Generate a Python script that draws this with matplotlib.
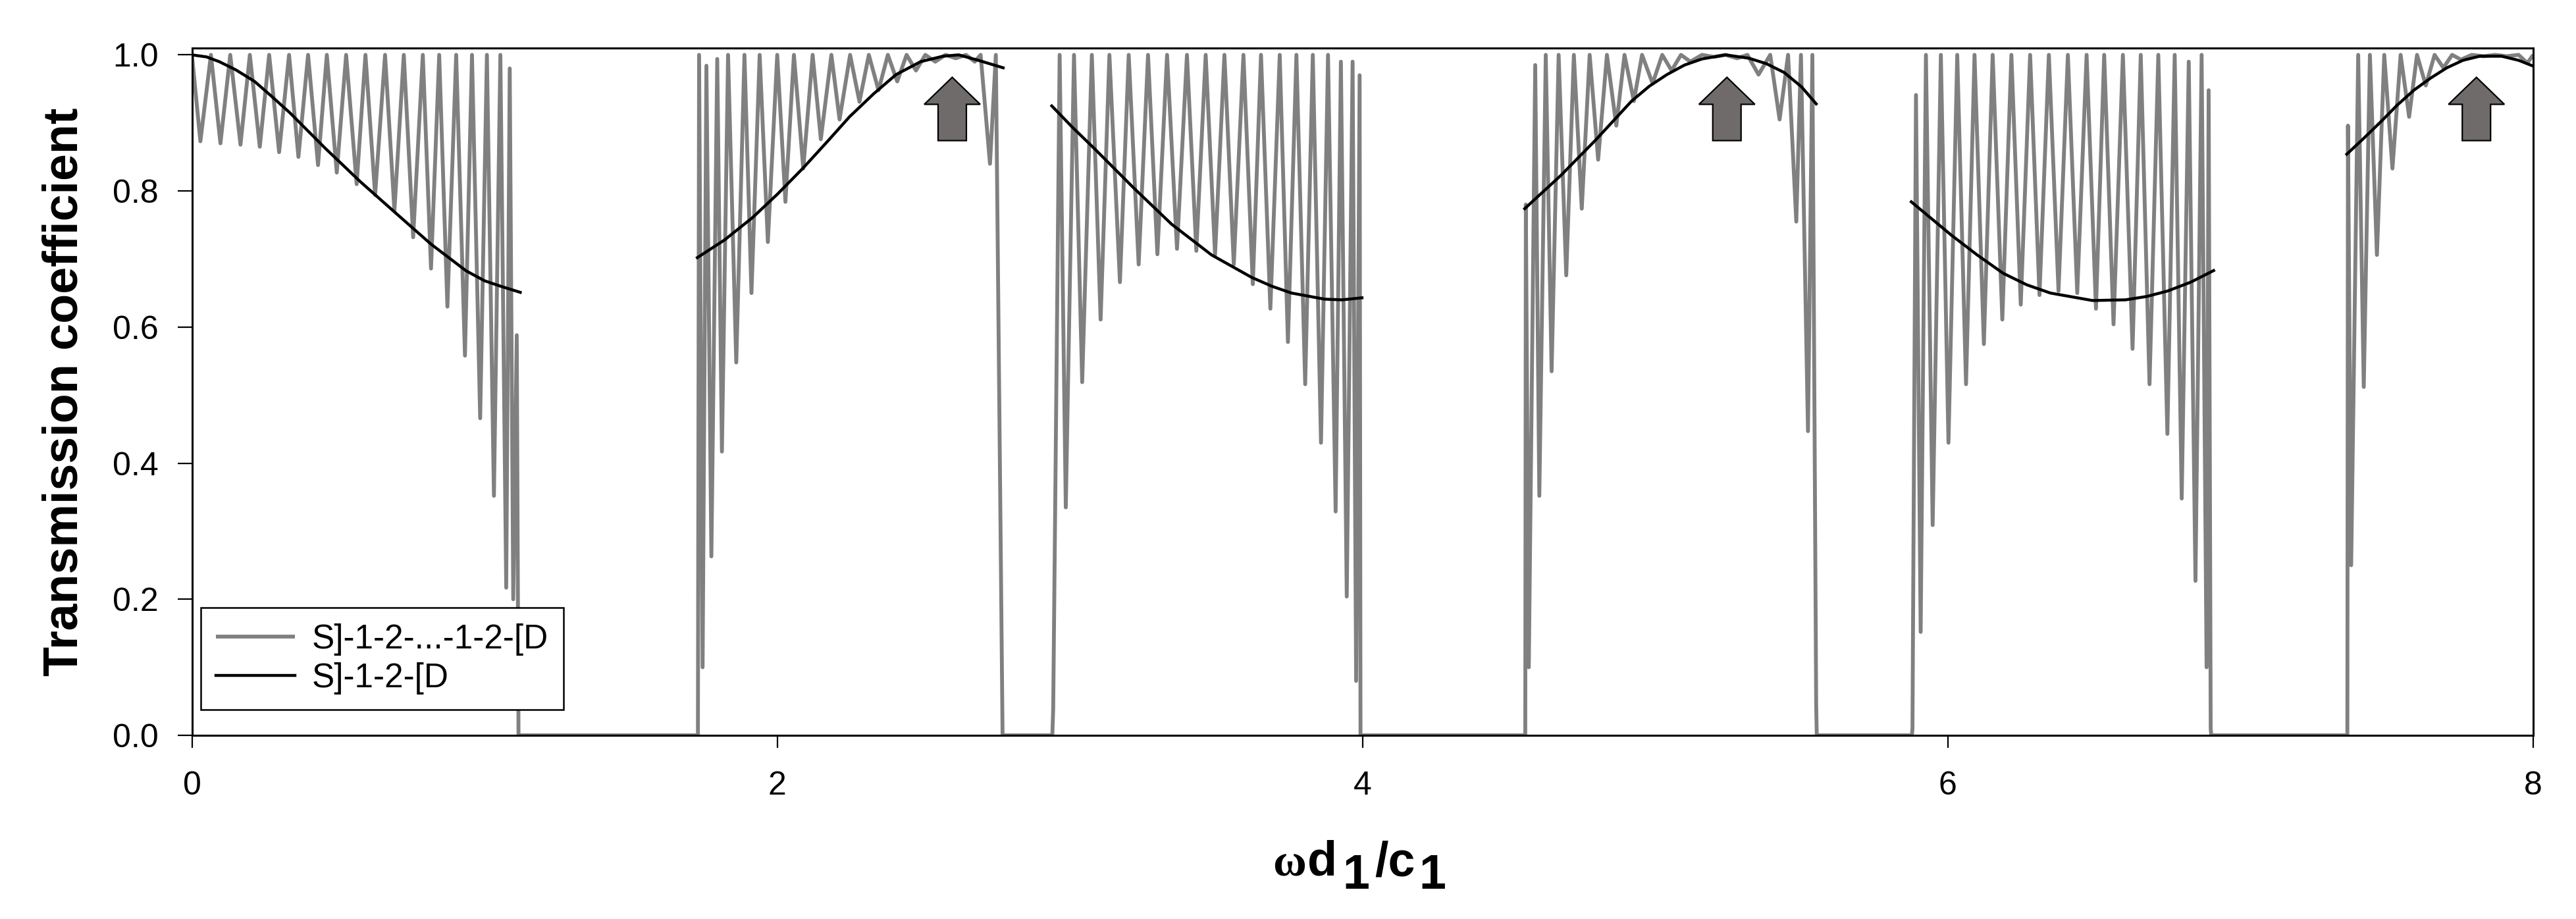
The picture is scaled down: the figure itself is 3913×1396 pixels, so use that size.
import numpy as np
import matplotlib
matplotlib.use("Agg")
import matplotlib.pyplot as plt
from matplotlib.patches import FancyArrow

plt.rcParams['font.family'] = ['Liberation Sans', 'DejaVu Sans']

# ---------------- data ----------------
# S]-1-2-...-1-2-[D : peaks / troughs of the oscillating transmission, per pass band
gray_band1 = [(0.0, 1.0), (0.029, 0.873), (0.065, 1.0), (0.0975, 0.870), (0.131, 1.0), (0.166, 0.868),
              (0.198, 1.0), (0.232, 0.865), (0.264, 1.0), (0.298, 0.857), (0.332, 1.0), (0.364, 0.850),
              (0.397, 1.0), (0.431, 0.838), (0.461, 1.0), (0.495, 0.827), (0.527, 1.0), (0.563, 0.810),
              (0.593, 1.0), (0.626, 0.794), (0.660, 1.0), (0.692, 0.771), (0.724, 1.0), (0.756, 0.732),
              (0.789, 1.0), (0.817, 0.686), (0.845, 1.0), (0.873, 0.630), (0.903, 1.0), (0.933, 0.558),
              (0.957, 1.0), (0.985, 0.466), (1.008, 1.0), (1.032, 0.352), (1.054, 1.0), (1.074, 0.217),
              (1.086, 0.98), (1.098, 0.20), (1.110, 0.588), (1.116, 0.0)]
gray_band2 = [(1.729, 0.0), (1.733, 1.0), (1.745, 0.10), (1.758, 0.984), (1.775, 0.263), (1.795, 0.994),
              (1.811, 0.417), (1.832, 1.0), (1.860, 0.548), (1.888, 1.0), (1.912, 0.650), (1.940, 1.0),
              (1.968, 0.725), (2.000, 1.0), (2.028, 0.784), (2.057, 1.0), (2.089, 0.833), (2.121, 1.0),
              (2.149, 0.876), (2.185, 1.0), (2.213, 0.905), (2.249, 1.0), (2.281, 0.931), (2.313, 1.0),
              (2.346, 0.948), (2.378, 1.0), (2.410, 0.961), (2.442, 1.0), (2.474, 0.977), (2.506, 1.0),
              (2.540, 0.990), (2.575, 1.0), (2.610, 0.995), (2.645, 1.0), (2.675, 0.990), (2.695, 1.0),
              (2.727, 0.840), (2.747, 1.0), (2.767, 0.129), (2.770, 0.0)]
gray_band3 = [(2.940, 0.0), (2.943, 0.04), (2.965, 1.0), (2.986, 0.335), (3.014, 1.0), (3.042, 0.519),
              (3.075, 1.0), (3.105, 0.611), (3.135, 1.0), (3.171, 0.666), (3.201, 1.0), (3.235, 0.692),
              (3.267, 1.0), (3.299, 0.707), (3.332, 1.0), (3.366, 0.715), (3.400, 1.0), (3.432, 0.712),
              (3.464, 1.0), (3.496, 0.706), (3.528, 1.0), (3.560, 0.692), (3.593, 1.0), (3.625, 0.663),
              (3.653, 1.0), (3.685, 0.627), (3.717, 1.0), (3.745, 0.578), (3.774, 1.0), (3.804, 0.516),
              (3.830, 1.0), (3.858, 0.430), (3.882, 1.0), (3.908, 0.329), (3.926, 0.99), (3.946, 0.204),
              (3.966, 0.99), (3.978, 0.08), (3.990, 0.97), (3.993, 0.0)]
gray_band4 = [(4.556, 0.0), (4.558, 0.78), (4.568, 0.10), (4.590, 0.985), (4.604, 0.352), (4.626, 1.0),
              (4.646, 0.535), (4.670, 1.0), (4.696, 0.676), (4.722, 1.0), (4.749, 0.774), (4.776, 1.0),
              (4.805, 0.846), (4.835, 1.0), (4.867, 0.896), (4.895, 1.0), (4.927, 0.932), (4.955, 1.0),
              (4.991, 0.958), (5.024, 1.0), (5.056, 0.977), (5.088, 1.0), (5.120, 0.990), (5.160, 1.0),
              (5.200, 0.997), (5.240, 1.0), (5.280, 0.995), (5.315, 1.0), (5.353, 0.971), (5.393, 1.0),
              (5.425, 0.905), (5.454, 1.0), (5.482, 0.755), (5.498, 1.0), (5.522, 0.447), (5.537, 1.0),
              (5.550, 0.044), (5.552, 0.0)]
gray_band5 = [(5.877, 0.0), (5.879, 0.01), (5.891, 0.941), (5.907, 0.152), (5.925, 1.0), (5.948, 0.309),
              (5.976, 1.0), (6.002, 0.430), (6.032, 1.0), (6.062, 0.516), (6.091, 1.0), (6.123, 0.575),
              (6.153, 1.0), (6.186, 0.611), (6.217, 1.0), (6.249, 0.633), (6.281, 1.0), (6.313, 0.647),
              (6.345, 1.0), (6.378, 0.653), (6.410, 1.0), (6.442, 0.650), (6.474, 1.0), (6.506, 0.627),
              (6.534, 1.0), (6.566, 0.604), (6.598, 1.0), (6.631, 0.568), (6.659, 1.0), (6.689, 0.516),
              (6.719, 1.0), (6.750, 0.443), (6.775, 1.0), (6.799, 0.348), (6.823, 0.99), (6.846, 0.227),
              (6.867, 1.0), (6.884, 0.10), (6.891, 0.948), (6.898, 0.01), (6.900, 0.0)]
gray_band6 = [(7.365, 0.0), (7.367, 0.896), (7.378, 0.250), (7.402, 1.0), (7.421, 0.512), (7.442, 1.0),
              (7.466, 0.706), (7.491, 1.0), (7.519, 0.833), (7.547, 1.0), (7.576, 0.909), (7.603, 1.0),
              (7.633, 0.955), (7.663, 1.0), (7.693, 0.981), (7.723, 1.0), (7.753, 0.993), (7.790, 1.0),
              (7.830, 0.998), (7.870, 1.0), (7.910, 0.998), (7.950, 1.0), (7.980, 0.988), (8.0, 1.0)]

# S]-1-2-[D : smooth single-cell transmission, per pass band
black_band1 = [(0.0, 1.0), (0.05, 0.997), (0.0935, 0.990), (0.15, 0.978), (0.214, 0.961), (0.27, 0.940),
               (0.3345, 0.915), (0.455, 0.863), (0.5756, 0.8136), (0.696, 0.7677), (0.8166, 0.722),
               (0.937, 0.6826), (1.0, 0.668), (1.0577, 0.6596), (1.122, 0.651)]
black_band2 = [(1.727, 0.702), (1.82, 0.728), (1.916, 0.761), (2.0, 0.795), (2.087, 0.833), (2.17, 0.872),
               (2.247, 0.909), (2.33, 0.943), (2.406, 0.971), (2.49, 0.990), (2.566, 0.998), (2.62, 1.0),
               (2.687, 0.992), (2.772, 0.981)]
black_band3 = [(2.938, 0.925), (3.01, 0.893), (3.082, 0.863), (3.219, 0.804), (3.348, 0.751), (3.484, 0.706),
               (3.621, 0.673), (3.69, 0.660), (3.757, 0.650), (3.870, 0.641), (3.93, 0.640), (3.998, 0.643)]
black_band4 = [(4.554, 0.774), (4.678, 0.823), (4.799, 0.876), (4.919, 0.932), (4.98, 0.954), (5.040, 0.971),
               (5.10, 0.985), (5.160, 0.994), (5.241, 1.0), (5.321, 0.995), (5.38, 0.987), (5.441, 0.974),
               (5.50, 0.953), (5.550, 0.928)]
black_band5 = [(5.875, 0.784), (6.012, 0.735), (6.10, 0.706), (6.189, 0.679), (6.27, 0.662), (6.350, 0.650),
               (6.494, 0.639), (6.607, 0.640), (6.68, 0.645), (6.751, 0.653), (6.83, 0.666), (6.908, 0.683)]
black_band6 = [(7.363, 0.854), (7.420, 0.877), (7.480, 0.902), (7.535, 0.926), (7.592, 0.948),
               (7.650, 0.966), (7.705, 0.981), (7.760, 0.992), (7.817, 0.998), (7.892, 0.998),
               (7.950, 0.992), (7.997, 0.984)]

# arrows marking full transmission
arrow_x = [2.598, 5.245, 7.806]
arrow_y_base = 0.874
arrow_y_tip = 0.967

legend_labels = ["S]-1-2-...-1-2-[D", "S]-1-2-[D"]
x_ticks = [0, 2, 4, 6, 8]
y_ticks = [0.0, 0.2, 0.4, 0.6, 0.8, 1.0]

# ---------------- figure ----------------
W, H = 3913, 1396
fig = plt.figure(figsize=(W / 100, H / 100), dpi=100)
ax = fig.add_axes([291.5 / W, (H - 1117) / H, (3848 - 291.5) / W, (1117 - 73) / H])

gray_all = np.array(gray_band1 + gray_band2 + gray_band3 + gray_band4 + gray_band5 + gray_band6)
g_line, = ax.plot(gray_all[:, 0], gray_all[:, 1], color='#808080', lw=4.2,
                  solid_joinstyle='round', solid_capstyle='butt', zorder=2)

b_lines = []
for band in (black_band1, black_band2, black_band3, black_band4, black_band5, black_band6):
    arr = np.array(band)
    l, = ax.plot(arr[:, 0], arr[:, 1], color='black', lw=3.2, zorder=3,
                 solid_joinstyle='round')
    b_lines.append(l)

for xa in arrow_x:
    ax.add_patch(FancyArrow(xa, arrow_y_base, 0, arrow_y_tip - arrow_y_base,
                            width=0.0967, head_width=0.191, head_length=0.0397,
                            length_includes_head=True, facecolor='#706b6b',
                            edgecolor='black', lw=1.6, zorder=4))

ax.set_xlim(0, 8)
ax.set_ylim(0, 1.01)
ax.set_xticks(x_ticks)
ax.set_xticklabels([str(v) for v in x_ticks])
ax.set_yticks(y_ticks)
ax.set_yticklabels([f"{v:.1f}" for v in y_ticks])

for sp in ax.spines.values():
    sp.set_linewidth(2.2)
    sp.set_zorder(5)
ax.tick_params(axis='x', direction='out', length=13.7, width=1.6, labelsize=36, pad=25)
ax.tick_params(axis='y', direction='out', length=15.8, width=1.6, labelsize=36, pad=21)
ax.tick_params(top=False, right=False)

ax.set_ylabel('Transmission coefficient', fontsize=53, fontweight='bold')
ax.yaxis.set_label_coords(-0.0446, 0.5)

leg = ax.legend([g_line, b_lines[0]], legend_labels, loc='lower left',
                bbox_to_anchor=(0.0037, 0.0374), borderaxespad=0, fontsize=37,
                handlelength=2.33, handletextpad=0.5, borderpad=0.45, labelspacing=0.2,
                fancybox=False, framealpha=1, edgecolor='black')
leg.get_frame().set_linewidth(1.8)
leg.set_zorder(6)

# x-axis label "ωd1/c1" with full-size lowered subscripts
fig.canvas.draw()
renderer = fig.canvas.get_renderer()
sans_b = dict(family='Liberation Sans', weight='bold', size=53)
serif_b = dict(family=['Liberation Serif', 'DejaVu Serif'], weight='bold', size=50)
pieces = [("ω", serif_b, 0, 2), ("d", sans_b, 0, 8), ("1", sans_b, 20, 8),
          ("/c", sans_b, 0, 6), ("1", sans_b, 20, 0)]
widths = []
for s, props, dy, gap in pieces:
    t = fig.text(0, 0, s, **props)
    widths.append(t.get_window_extent(renderer).width)
    t.remove()
total = sum(widths) + sum(p[3] for p in pieces)
xc = 2065.0
xpos = xc - total / 2
baseline = 1330.0
for (s, props, dy, gap), w in zip(pieces, widths):
    fig.text(xpos / W, (H - baseline - dy) / H, s, ha='left', va='baseline', **props)
    xpos += w + gap

fig.savefig('out.png', dpi=100)
